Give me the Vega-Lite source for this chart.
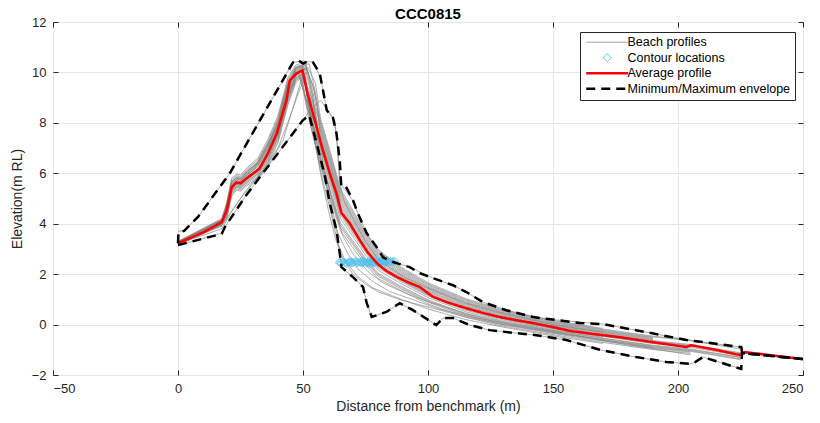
{
"$schema":"https://vega.github.io/schema/vega-lite/v6.json",
"width":750,"height":353,
"autosize":{"type":"none"},
"padding":{"left":53,"top":22,"right":17,"bottom":48},
"title":{"text":"CCC0815","fontSize":15,"fontWeight":"bold","font":"Liberation Sans","color":"#000000","offset":-6},
"config":{
 "view":{"stroke":"#262626","strokeWidth":1},
 "axis":{"labelFont":"Liberation Sans","labelFontSize":13,"labelColor":"#262626","titleFont":"Liberation Sans","titleFontSize":14,"titleFontWeight":"normal","titleColor":"#262626","gridColor":"#e5e5e5","gridWidth":1,"domain":false,"tickColor":"#262626","tickSize":-5,"labelPadding":12},
 "legend":{"orient":"none","legendX":527,"legendY":10,"strokeColor":"#262626","fillColor":"#ffffff","padding":4,"labelFont":"Liberation Sans","labelFontSize":12.5,"labelColor":"#000000","labelLimit":300,"symbolSize":64,"symbolOffset":17,"labelOffset":14,"rowPadding":2.5}
},
"datasets":{
"profiles":[
{"p":1,"x":0,"y":3.16},{"p":1,"x":17.5,"y":3.93},{"p":1,"x":19.5,"y":4.22},{"p":1,"x":21.5,"y":5.09},{"p":1,"x":23.5,"y":5.34},{"p":1,"x":25,"y":5.29},{"p":1,"x":28,"y":5.54},{"p":1,"x":32,"y":5.8},{"p":1,"x":36,"y":6.36},{"p":1,"x":40,"y":7.21},{"p":1,"x":44,"y":8.72},{"p":1,"x":47,"y":9.57},{"p":1,"x":49,"y":9.77},
{"p":1,"x":52,"y":9.38},{"p":1,"x":57,"y":7.97},{"p":1,"x":61,"y":6.62},{"p":1,"x":65,"y":5.2},{"p":1,"x":70,"y":4.36},{"p":1,"x":75,"y":3.53},{"p":1,"x":80,"y":2.82},{"p":1,"x":90,"y":2.13},{"p":1,"x":100,"y":1.57},{"p":1,"x":115,"y":0.95},{"p":1,"x":130,"y":0.52},{"p":1,"x":150,"y":0.1},{"p":1,"x":170,"y":-0.21},{"p":1,"x":190,"y":-0.49},{"p":1,"x":205,"y":-0.64},{"p":1,"x":225,"y":-0.97},
{"p":2,"x":0,"y":3.18},{"p":2,"x":17.5,"y":3.97},{"p":2,"x":19.5,"y":4.32},{"p":2,"x":21.5,"y":5.21},{"p":2,"x":23.5,"y":5.44},{"p":2,"x":25,"y":5.39},{"p":2,"x":28,"y":5.66},{"p":2,"x":32,"y":5.93},{"p":2,"x":36,"y":6.52},{"p":2,"x":40,"y":7.39},{"p":2,"x":44,"y":8.9},{"p":2,"x":47,"y":9.69},{"p":2,"x":50.5,"y":9.87},
{"p":2,"x":53.5,"y":8.03},{"p":2,"x":57,"y":6.47},{"p":2,"x":61,"y":5.12},{"p":2,"x":65,"y":3.85},{"p":2,"x":70,"y":3.16},{"p":2,"x":75,"y":2.48},{"p":2,"x":80,"y":1.92},{"p":2,"x":90,"y":1.38},{"p":2,"x":100,"y":0.89},{"p":2,"x":115,"y":0.35},{"p":2,"x":130,"y":-0.01},{"p":2,"x":150,"y":-0.35},{"p":2,"x":170,"y":-0.66},{"p":2,"x":190,"y":-0.94},{"p":2,"x":205,"y":-1.09},
{"p":3,"x":0,"y":3.21},{"p":3,"x":17.5,"y":4.02},{"p":3,"x":19.5,"y":4.43},{"p":3,"x":21.5,"y":5.33},{"p":3,"x":23.5,"y":5.55},{"p":3,"x":25,"y":5.5},{"p":3,"x":28,"y":5.78},{"p":3,"x":32,"y":6.07},{"p":3,"x":36,"y":6.69},{"p":3,"x":40,"y":7.57},{"p":3,"x":44,"y":9.08},{"p":3,"x":47,"y":9.81},{"p":3,"x":48,"y":9.98},
{"p":3,"x":51,"y":9.02},{"p":3,"x":57,"y":7.57},{"p":3,"x":61,"y":6.22},{"p":3,"x":65,"y":4.84},{"p":3,"x":70,"y":4.04},{"p":3,"x":75,"y":3.25},{"p":3,"x":80,"y":2.58},{"p":3,"x":90,"y":1.93},{"p":3,"x":100,"y":1.39},{"p":3,"x":115,"y":0.79},{"p":3,"x":130,"y":0.38},{"p":3,"x":150,"y":-0.02},{"p":3,"x":170,"y":-0.33},{"p":3,"x":190,"y":-0.61},
{"p":4,"x":0,"y":3.23},{"p":4,"x":17.5,"y":4.06},{"p":4,"x":19.5,"y":4.53},{"p":4,"x":21.5,"y":5.45},{"p":4,"x":23.5,"y":5.65},{"p":4,"x":25,"y":5.6},{"p":4,"x":28,"y":5.9},{"p":4,"x":32,"y":6.2},{"p":4,"x":36,"y":6.85},{"p":4,"x":40,"y":7.75},{"p":4,"x":44,"y":9.26},{"p":4,"x":47,"y":9.93},{"p":4,"x":50,"y":10.08},
{"p":4,"x":53,"y":8.39},{"p":4,"x":57,"y":6.87},{"p":4,"x":61,"y":5.52},{"p":4,"x":65,"y":4.21},{"p":4,"x":70,"y":3.48},{"p":4,"x":75,"y":2.76},{"p":4,"x":80,"y":2.16},{"p":4,"x":90,"y":1.58},{"p":4,"x":100,"y":1.07},{"p":4,"x":115,"y":0.51},{"p":4,"x":130,"y":0.13},{"p":4,"x":150,"y":-0.23},{"p":4,"x":170,"y":-0.54},{"p":4,"x":190,"y":-0.82},{"p":4,"x":205,"y":-0.97},{"p":4,"x":225,"y":-1.3},
{"p":5,"x":0,"y":3.25},{"p":5,"x":17.5,"y":4.11},{"p":5,"x":19.5,"y":4.64},{"p":5,"x":21.5,"y":5.57},{"p":5,"x":23.5,"y":5.76},{"p":5,"x":25,"y":5.71},{"p":5,"x":28,"y":6.02},{"p":5,"x":32,"y":6.34},{"p":5,"x":36,"y":7.02},{"p":5,"x":40,"y":7.93},{"p":5,"x":44,"y":9.44},{"p":5,"x":47,"y":10.05},{"p":5,"x":52,"y":10.19},
{"p":5,"x":55,"y":9.56},{"p":5,"x":57,"y":8.17},{"p":5,"x":61,"y":6.82},{"p":5,"x":65,"y":5.38},{"p":5,"x":70,"y":4.52},{"p":5,"x":75,"y":3.67},{"p":5,"x":80,"y":2.94},{"p":5,"x":90,"y":2.23},{"p":5,"x":100,"y":1.66},{"p":5,"x":115,"y":1.03},{"p":5,"x":130,"y":0.59},{"p":5,"x":150,"y":0.16},{"p":5,"x":170,"y":-0.15},
{"p":6,"x":0,"y":3.28},{"p":6,"x":17.5,"y":4.15},{"p":6,"x":19.5,"y":4.74},{"p":6,"x":21.5,"y":5.69},{"p":6,"x":23.5,"y":5.86},{"p":6,"x":25,"y":5.81},{"p":6,"x":28,"y":6.14},{"p":6,"x":32,"y":6.47},{"p":6,"x":36,"y":7.18},{"p":6,"x":40,"y":8.11},{"p":6,"x":44,"y":9.62},{"p":6,"x":47,"y":10.17},{"p":6,"x":49.5,"y":10.29},
{"p":6,"x":52.5,"y":8.66},{"p":6,"x":57,"y":7.17},{"p":6,"x":61,"y":5.82},{"p":6,"x":65,"y":4.48},{"p":6,"x":70,"y":3.72},{"p":6,"x":75,"y":2.97},{"p":6,"x":80,"y":2.34},{"p":6,"x":90,"y":1.73},{"p":6,"x":100,"y":1.21},{"p":6,"x":115,"y":0.63},{"p":6,"x":130,"y":0.24},{"p":6,"x":150,"y":-0.14},{"p":6,"x":170,"y":-0.45},{"p":6,"x":190,"y":-0.73},{"p":6,"x":205,"y":-0.88},
{"p":7,"x":0,"y":3.3},{"p":7,"x":17.5,"y":4.2},{"p":7,"x":19.5,"y":4.85},{"p":7,"x":21.5,"y":5.81},{"p":7,"x":23.5,"y":5.97},{"p":7,"x":25,"y":5.92},{"p":7,"x":28,"y":6.26},{"p":7,"x":32,"y":6.61},{"p":7,"x":36,"y":7.35},{"p":7,"x":40,"y":8.29},{"p":7,"x":44,"y":9.8},{"p":7,"x":47,"y":10.29},{"p":7,"x":51,"y":10.4},
{"p":7,"x":54,"y":9.2},{"p":7,"x":57,"y":7.77},{"p":7,"x":61,"y":6.42},{"p":7,"x":65,"y":5.02},{"p":7,"x":70,"y":4.2},{"p":7,"x":75,"y":3.39},{"p":7,"x":80,"y":2.7},{"p":7,"x":90,"y":2.03},{"p":7,"x":100,"y":1.48},{"p":7,"x":115,"y":0.87},{"p":7,"x":130,"y":0.45},{"p":7,"x":150,"y":0.04},{"p":7,"x":170,"y":-0.27},{"p":7,"x":190,"y":-0.55},
{"p":8,"x":0,"y":3.17},{"p":8,"x":17.5,"y":3.95},{"p":8,"x":19.5,"y":4.27},{"p":8,"x":21.5,"y":5.15},{"p":8,"x":23.5,"y":5.39},{"p":8,"x":25,"y":5.34},{"p":8,"x":28,"y":5.6},{"p":8,"x":32,"y":5.86},{"p":8,"x":36,"y":6.44},{"p":8,"x":40,"y":7.3},{"p":8,"x":44,"y":8.81},{"p":8,"x":47,"y":9.63},{"p":8,"x":48.5,"y":9.82},
{"p":8,"x":51.5,"y":8.84},{"p":8,"x":57,"y":7.37},{"p":8,"x":61,"y":6.02},{"p":8,"x":65,"y":4.66},{"p":8,"x":70,"y":3.88},{"p":8,"x":75,"y":3.11},{"p":8,"x":80,"y":2.46},{"p":8,"x":90,"y":1.83},{"p":8,"x":100,"y":1.3},{"p":8,"x":115,"y":0.71},{"p":8,"x":130,"y":0.31},{"p":8,"x":150,"y":-0.08},{"p":8,"x":170,"y":-0.39},{"p":8,"x":190,"y":-0.67},{"p":8,"x":205,"y":-0.82},{"p":8,"x":225,"y":-1.15},
{"p":9,"x":0,"y":3.27},{"p":9,"x":17.5,"y":4.13},{"p":9,"x":19.5,"y":4.69},{"p":9,"x":21.5,"y":5.63},{"p":9,"x":23.5,"y":5.81},{"p":9,"x":25,"y":5.76},{"p":9,"x":28,"y":6.08},{"p":9,"x":32,"y":6.4},{"p":9,"x":36,"y":7.1},{"p":9,"x":40,"y":8.02},{"p":9,"x":44,"y":9.53},{"p":9,"x":47,"y":10.11},{"p":9,"x":50,"y":10.24},
{"p":9,"x":53,"y":7.9},{"p":9,"x":57,"y":6.32},{"p":9,"x":61,"y":4.97},{"p":9,"x":65,"y":3.72},{"p":9,"x":70,"y":3.04},{"p":9,"x":75,"y":2.38},{"p":9,"x":80,"y":1.83},{"p":9,"x":90,"y":1.31},{"p":9,"x":100,"y":0.82},{"p":9,"x":115,"y":0.29},{"p":9,"x":130,"y":-0.06},{"p":9,"x":150,"y":-0.4},{"p":9,"x":170,"y":-0.71},{"p":9,"x":190,"y":-0.99},{"p":9,"x":205,"y":-1.14},
{"p":10,"x":0,"y":3.24},{"p":10,"x":17.5,"y":4.08},{"p":10,"x":19.5,"y":4.58},{"p":10,"x":21.5,"y":5.51},{"p":10,"x":23.5,"y":5.7},{"p":10,"x":25,"y":5.65},{"p":10,"x":28,"y":5.96},{"p":10,"x":32,"y":6.27},{"p":10,"x":36,"y":6.93},{"p":10,"x":40,"y":7.84},{"p":10,"x":44,"y":9.35},{"p":10,"x":47,"y":9.99},{"p":10,"x":51.5,"y":10.13},
{"p":10,"x":54.5,"y":9.29},{"p":10,"x":57,"y":7.87},{"p":10,"x":61,"y":6.52},{"p":10,"x":65,"y":5.11},{"p":10,"x":70,"y":4.28},{"p":10,"x":75,"y":3.46},{"p":10,"x":80,"y":2.76},{"p":10,"x":90,"y":2.08},{"p":10,"x":100,"y":1.52},{"p":10,"x":115,"y":0.91},{"p":10,"x":130,"y":0.48},{"p":10,"x":150,"y":0.07},{"p":10,"x":170,"y":-0.24},{"p":10,"x":190,"y":-0.52},
{"p":11,"x":0,"y":3.19},{"p":11,"x":17.5,"y":3.99},{"p":11,"x":19.5,"y":4.37},{"p":11,"x":21.5,"y":5.27},{"p":11,"x":23.5,"y":5.49},{"p":11,"x":25,"y":5.44},{"p":11,"x":28,"y":5.72},{"p":11,"x":32,"y":6.0},{"p":11,"x":36,"y":6.6},{"p":11,"x":40,"y":7.48},{"p":11,"x":44,"y":8.99},{"p":11,"x":47,"y":9.75},{"p":11,"x":49,"y":9.92},
{"p":11,"x":52,"y":8.53},{"p":11,"x":57,"y":7.02},{"p":11,"x":61,"y":5.67},{"p":11,"x":65,"y":4.35},{"p":11,"x":70,"y":3.6},{"p":11,"x":75,"y":2.87},{"p":11,"x":80,"y":2.25},{"p":11,"x":90,"y":1.66},{"p":11,"x":100,"y":1.14},{"p":11,"x":115,"y":0.57},{"p":11,"x":130,"y":0.18},{"p":11,"x":150,"y":-0.2},{"p":11,"x":170,"y":-0.5},
{"p":12,"x":0,"y":3.29},{"p":12,"x":17.5,"y":4.17},{"p":12,"x":19.5,"y":4.79},{"p":12,"x":21.5,"y":5.75},{"p":12,"x":23.5,"y":5.91},{"p":12,"x":25,"y":5.86},{"p":12,"x":28,"y":6.2},{"p":12,"x":32,"y":6.54},{"p":12,"x":36,"y":7.26},{"p":12,"x":40,"y":8.2},{"p":12,"x":44,"y":9.71},{"p":12,"x":47,"y":10.23},{"p":12,"x":52.5,"y":10.34},
{"p":12,"x":55.5,"y":8.93},{"p":12,"x":57,"y":7.47},{"p":12,"x":61,"y":6.12},{"p":12,"x":65,"y":4.75},{"p":12,"x":70,"y":3.96},{"p":12,"x":75,"y":3.18},{"p":12,"x":80,"y":2.52},{"p":12,"x":90,"y":1.88},{"p":12,"x":100,"y":1.34},{"p":12,"x":115,"y":0.75},{"p":12,"x":130,"y":0.34},{"p":12,"x":150,"y":-0.05},{"p":12,"x":170,"y":-0.36},{"p":12,"x":190,"y":-0.64},{"p":12,"x":205,"y":-0.79},{"p":12,"x":225,"y":-1.12},{"p":12,"x":250,"y":-1.37},
{"p":13,"x":0,"y":3.22},{"p":13,"x":17.5,"y":4.04},{"p":13,"x":19.5,"y":4.48},{"p":13,"x":21.5,"y":5.39},{"p":13,"x":23.5,"y":5.6},{"p":13,"x":25,"y":5.55},{"p":13,"x":28,"y":5.84},{"p":13,"x":32,"y":6.13},{"p":13,"x":36,"y":6.77},{"p":13,"x":40,"y":7.66},{"p":13,"x":44,"y":9.17},{"p":13,"x":47,"y":9.87},{"p":13,"x":50,"y":10.03},
{"p":13,"x":53,"y":8.21},{"p":13,"x":57,"y":6.67},{"p":13,"x":61,"y":5.32},{"p":13,"x":65,"y":4.03},{"p":13,"x":70,"y":3.32},{"p":13,"x":75,"y":2.62},{"p":13,"x":80,"y":2.04},{"p":13,"x":90,"y":1.48},{"p":13,"x":100,"y":0.98},{"p":13,"x":115,"y":0.43},{"p":13,"x":130,"y":0.06},{"p":13,"x":150,"y":-0.29},{"p":13,"x":170,"y":-0.6},{"p":13,"x":190,"y":-0.88},{"p":13,"x":205,"y":-1.03},{"p":13,"x":225,"y":-1.36},
{"p":14,"x":0,"y":3.27},{"p":14,"x":17.5,"y":4.14},{"p":14,"x":19.5,"y":4.71},{"p":14,"x":21.5,"y":5.65},{"p":14,"x":23.5,"y":5.83},{"p":14,"x":25,"y":5.78},{"p":14,"x":28,"y":6.1},{"p":14,"x":32,"y":6.43},{"p":14,"x":36,"y":7.13},{"p":14,"x":40,"y":8.05},{"p":14,"x":44,"y":9.56},{"p":14,"x":47,"y":10.13},{"p":14,"x":51,"y":10.26},
{"p":14,"x":54,"y":9.47},{"p":14,"x":57,"y":8.07},{"p":14,"x":61,"y":6.72},{"p":14,"x":65,"y":5.29},{"p":14,"x":70,"y":4.44},{"p":14,"x":75,"y":3.6},{"p":14,"x":80,"y":2.88},{"p":14,"x":90,"y":2.18},{"p":14,"x":100,"y":1.61},{"p":14,"x":115,"y":0.99},{"p":14,"x":130,"y":0.55},{"p":14,"x":150,"y":0.13},{"p":14,"x":170,"y":-0.18},{"p":14,"x":190,"y":-0.46},{"p":14,"x":205,"y":-0.61},
{"p":15,"x":0,"y":3.19},{"p":15,"x":17.5,"y":3.99},{"p":15,"x":19.5,"y":4.36},{"p":15,"x":21.5,"y":5.25},{"p":15,"x":23.5,"y":5.48},{"p":15,"x":25,"y":5.43},{"p":15,"x":28,"y":5.7},{"p":15,"x":32,"y":5.98},{"p":15,"x":36,"y":6.58},{"p":15,"x":40,"y":7.45},{"p":15,"x":44,"y":8.96},{"p":15,"x":47,"y":9.73},{"p":15,"x":49.5,"y":9.91},
{"p":15,"x":52.5,"y":9.11},{"p":15,"x":57,"y":7.67},{"p":15,"x":61,"y":6.32},{"p":15,"x":65,"y":4.93},{"p":15,"x":70,"y":4.12},{"p":15,"x":75,"y":3.32},{"p":15,"x":80,"y":2.64},{"p":15,"x":90,"y":1.98},{"p":15,"x":100,"y":1.43},{"p":15,"x":115,"y":0.83},{"p":15,"x":130,"y":0.41},{"p":15,"x":150,"y":0.01},{"p":15,"x":170,"y":-0.3},{"p":15,"x":190,"y":-0.58},
{"p":16,"x":0,"y":3.26},{"p":16,"x":17.5,"y":4.11},{"p":16,"x":19.5,"y":4.65},{"p":16,"x":21.5,"y":5.59},{"p":16,"x":23.5,"y":5.77},{"p":16,"x":25,"y":5.72},{"p":16,"x":28,"y":6.04},{"p":16,"x":32,"y":6.36},{"p":16,"x":36,"y":7.04},{"p":16,"x":40,"y":7.96},{"p":16,"x":44,"y":9.47},{"p":16,"x":47,"y":10.07},{"p":16,"x":50.5,"y":10.2},
{"p":16,"x":53.5,"y":8.12},{"p":16,"x":57,"y":6.57},{"p":16,"x":61,"y":5.22},{"p":16,"x":65,"y":3.94},{"p":16,"x":70,"y":3.24},{"p":16,"x":75,"y":2.55},{"p":16,"x":80,"y":1.98},{"p":16,"x":90,"y":1.43},{"p":16,"x":100,"y":0.94},{"p":16,"x":115,"y":0.39},{"p":16,"x":130,"y":0.03},{"p":16,"x":150,"y":-0.32},{"p":16,"x":170,"y":-0.63},{"p":16,"x":190,"y":-0.91},{"p":16,"x":205,"y":-1.06},{"p":16,"x":225,"y":-1.39},
{"p":17,"x":0,"y":3.25},{"p":17,"x":17.5,"y":4.09},{"p":17,"x":19.5,"y":4.6},{"p":17,"x":21.5,"y":5.53},{"p":17,"x":23.5,"y":5.72},{"p":17,"x":25,"y":5.67},{"p":17,"x":28,"y":5.98},{"p":17,"x":32,"y":6.29},{"p":17,"x":36,"y":6.96},{"p":17,"x":40,"y":7.87},{"p":17,"x":44,"y":9.38},{"p":17,"x":47,"y":10.01},{"p":17,"x":51,"y":10.15},
{"p":17,"x":54,"y":8.75},{"p":17,"x":57,"y":7.27},{"p":17,"x":61,"y":5.92},{"p":17,"x":65,"y":4.57},{"p":17,"x":70,"y":3.8},{"p":17,"x":75,"y":3.04},{"p":17,"x":80,"y":2.4},{"p":17,"x":90,"y":1.78},{"p":17,"x":100,"y":1.25},{"p":17,"x":115,"y":0.67},{"p":17,"x":130,"y":0.27},{"p":17,"x":150,"y":-0.11},{"p":17,"x":170,"y":-0.42},{"p":17,"x":190,"y":-0.7},{"p":17,"x":205,"y":-0.85},
{"p":18,"x":0,"y":3.21},{"p":18,"x":17.5,"y":4.03},{"p":18,"x":19.5,"y":4.46},{"p":18,"x":21.5,"y":5.37},{"p":18,"x":23.5,"y":5.58},{"p":18,"x":25,"y":5.53},{"p":18,"x":28,"y":5.82},{"p":18,"x":32,"y":6.11},{"p":18,"x":36,"y":6.74},{"p":18,"x":40,"y":7.63},{"p":18,"x":44,"y":9.14},{"p":18,"x":47,"y":9.85},{"p":18,"x":48.5,"y":10.01},
{"p":18,"x":51.5,"y":8.62},{"p":18,"x":57,"y":7.12},{"p":18,"x":61,"y":5.77},{"p":18,"x":65,"y":4.44},{"p":18,"x":70,"y":3.68},{"p":18,"x":75,"y":2.94},{"p":18,"x":80,"y":2.31},{"p":18,"x":90,"y":1.71},{"p":18,"x":100,"y":1.18},{"p":18,"x":115,"y":0.61},{"p":18,"x":130,"y":0.22},{"p":18,"x":150,"y":-0.16},{"p":18,"x":170,"y":-0.47},{"p":18,"x":190,"y":-0.75},{"p":18,"x":205,"y":-0.9},{"p":18,"x":225,"y":-1.23},
{"p":19,"x":0,"y":3.7},{"p":19,"x":2.5,"y":3.72},{"p":19,"x":8,"y":4.27},{"p":19,"x":20.7,"y":6.0},{"p":19,"x":46,"y":10.4},{"p":19,"x":50,"y":10.45},{"p":19,"x":54,"y":10.4},{"p":19,"x":57,"y":9.8},{"p":19,"x":59.5,"y":8.5},{"p":19,"x":62,"y":8.2},{"p":19,"x":63.4,"y":7.58},{"p":19,"x":65,"y":5.6},{"p":19,"x":70,"y":4.9},{"p":19,"x":72,"y":4.4},{"p":19,"x":75.5,"y":3.6},{"p":19,"x":80,"y":3.0},{"p":19,"x":86,"y":2.48},{"p":19,"x":92.7,"y":2.28},{"p":19,"x":102,"y":1.84},{"p":19,"x":110,"y":1.56},{"p":19,"x":115.3,"y":1.29},{"p":19,"x":122,"y":0.89},{"p":19,"x":131.3,"y":0.57},{"p":19,"x":142,"y":0.3},{"p":19,"x":151.3,"y":0.18},{"p":19,"x":170,"y":0.02},{"p":19,"x":187.3,"y":-0.3},{"p":19,"x":203.3,"y":-0.61},{"p":19,"x":225,"y":-0.89},
{"p":20,"x":0,"y":3.15},{"p":20,"x":17.5,"y":3.62},{"p":20,"x":18.7,"y":3.86},{"p":20,"x":26.7,"y":5.05},{"p":20,"x":49.9,"y":8.1},{"p":20,"x":53,"y":8.5},{"p":20,"x":57,"y":8.9},{"p":20,"x":62.7,"y":8.1},{"p":20,"x":63.8,"y":7.0},{"p":20,"x":64.5,"y":5.8},{"p":20,"x":66,"y":5.0},{"p":20,"x":70,"y":4.2},{"p":20,"x":75,"y":3.3},{"p":20,"x":80,"y":2.6},{"p":20,"x":90,"y":1.9},{"p":20,"x":100,"y":1.45},{"p":20,"x":115,"y":0.85},{"p":20,"x":130,"y":0.45},{"p":20,"x":150,"y":0.0},{"p":20,"x":170,"y":-0.3},
{"p":21,"x":0,"y":3.3},{"p":21,"x":17.5,"y":4.05},{"p":21,"x":21,"y":5.4},{"p":21,"x":30,"y":6.1},{"p":21,"x":40,"y":7.9},{"p":21,"x":47,"y":10.2},{"p":21,"x":51,"y":10.3},{"p":21,"x":54,"y":9.0},{"p":21,"x":57,"y":6.5},{"p":21,"x":59,"y":5.8},{"p":21,"x":61,"y":4.6},{"p":21,"x":63.4,"y":3.74},{"p":21,"x":64.7,"y":2.83},{"p":21,"x":65.4,"y":2.28},{"p":21,"x":70,"y":1.88},{"p":21,"x":74,"y":1.49},{"p":21,"x":75.5,"y":0.85},{"p":21,"x":77.5,"y":0.3},{"p":21,"x":83.3,"y":0.5},{"p":21,"x":88.7,"y":0.85},{"p":21,"x":94,"y":0.57},{"p":21,"x":103.3,"y":-0.02},{"p":21,"x":106,"y":0.26},{"p":21,"x":110,"y":0.26},{"p":21,"x":116.7,"y":-0.02},{"p":21,"x":124.7,"y":-0.22},{"p":21,"x":135.3,"y":-0.34},{"p":21,"x":143.3,"y":-0.42},{"p":21,"x":155.3,"y":-0.61},{"p":21,"x":168.7,"y":-1.0},{"p":21,"x":183.3,"y":-1.29},{"p":21,"x":195.3,"y":-1.48},{"p":21,"x":204.7,"y":-1.56},{"p":21,"x":207,"y":-1.48},{"p":21,"x":210,"y":-1.29},{"p":21,"x":225.3,"y":-1.76},
{"p":22,"x":0,"y":3.24},{"p":22,"x":17.5,"y":3.9},{"p":22,"x":20,"y":4.3},{"p":22,"x":25,"y":5.0},{"p":22,"x":30,"y":5.6},{"p":22,"x":36,"y":6.3},{"p":22,"x":42,"y":7.3},{"p":22,"x":46,"y":8.6},{"p":22,"x":49,"y":9.6},{"p":22,"x":50.5,"y":9.9},{"p":22,"x":53.5,"y":8.0},{"p":22,"x":57,"y":6.0},{"p":22,"x":60,"y":4.6},{"p":22,"x":63,"y":3.4},{"p":22,"x":66,"y":2.6},{"p":22,"x":70,"y":2.0},{"p":22,"x":75,"y":1.6},{"p":22,"x":80,"y":1.3},{"p":22,"x":90,"y":0.95},{"p":22,"x":100,"y":0.7},{"p":22,"x":115,"y":0.3},{"p":22,"x":130,"y":0.0},{"p":22,"x":150,"y":-0.3},{"p":22,"x":170,"y":-0.6},{"p":22,"x":190,"y":-0.9},
{"p":23,"x":0,"y":3.27},{"p":23,"x":17.5,"y":4.14},{"p":23,"x":19.5,"y":4.7},{"p":23,"x":21.5,"y":5.65},{"p":23,"x":23.5,"y":5.83},{"p":23,"x":25,"y":5.78},{"p":23,"x":28,"y":6.1},{"p":23,"x":32,"y":6.43},{"p":23,"x":36,"y":7.13},{"p":23,"x":40,"y":8.05},{"p":23,"x":44,"y":9.56},{"p":23,"x":47,"y":10.13},{"p":23,"x":49,"y":10.25},{"p":23,"x":52,"y":8.3},{"p":23,"x":57,"y":6.3},{"p":23,"x":61,"y":4.9},{"p":23,"x":64,"y":3.6},{"p":23,"x":68,"y":2.8},{"p":23,"x":72,"y":2.2},{"p":23,"x":78,"y":1.7},{"p":23,"x":85,"y":1.3},{"p":23,"x":95,"y":0.95},{"p":23,"x":105,"y":0.6},{"p":23,"x":120,"y":0.25},{"p":23,"x":140,"y":-0.1},{"p":23,"x":160,"y":-0.45},{"p":23,"x":180,"y":-0.8},{"p":23,"x":205,"y":-1.2},
{"p":24,"x":0,"y":3.2},{"p":24,"x":17.5,"y":3.8},{"p":24,"x":21,"y":4.4},{"p":24,"x":27,"y":5.3},{"p":24,"x":33,"y":6.0},{"p":24,"x":40,"y":7.0},{"p":24,"x":45,"y":8.3},{"p":24,"x":49,"y":9.4},{"p":24,"x":51,"y":9.8},{"p":24,"x":53,"y":8.1},{"p":24,"x":57,"y":6.1},{"p":24,"x":61,"y":4.5},{"p":24,"x":64,"y":3.2},{"p":24,"x":67,"y":2.5},{"p":24,"x":72,"y":1.9},{"p":24,"x":78,"y":1.45},{"p":24,"x":88,"y":1.05},{"p":24,"x":100,"y":0.62},{"p":24,"x":115,"y":0.2},{"p":24,"x":130,"y":-0.1},{"p":24,"x":150,"y":-0.45},{"p":24,"x":170,"y":-0.75},
{"p":25,"x":0,"y":3.21},{"p":25,"x":17.5,"y":4.02},{"p":25,"x":19.5,"y":4.43},{"p":25,"x":21.5,"y":5.33},{"p":25,"x":23.5,"y":5.55},{"p":25,"x":25,"y":5.5},{"p":25,"x":28,"y":5.78},{"p":25,"x":32,"y":6.07},{"p":25,"x":36,"y":6.69},{"p":25,"x":40,"y":7.57},{"p":25,"x":44,"y":9.08},{"p":25,"x":47,"y":9.81},{"p":25,"x":52,"y":10.0},{"p":25,"x":55,"y":8.4},{"p":25,"x":58,"y":6.4},{"p":25,"x":62,"y":4.8},{"p":25,"x":66,"y":3.5},{"p":25,"x":70,"y":2.8},{"p":25,"x":76,"y":2.1},{"p":25,"x":82,"y":1.65},{"p":25,"x":92,"y":1.2},{"p":25,"x":102,"y":0.85},{"p":25,"x":115,"y":0.45},{"p":25,"x":130,"y":0.1},{"p":25,"x":150,"y":-0.25},{"p":25,"x":170,"y":-0.55},{"p":25,"x":190,"y":-0.85},{"p":25,"x":205,"y":-1.0},{"p":25,"x":225,"y":-1.3}
],
"contours":[
{"x":64.5,"y":2.46},{"x":65.2,"y":2.44},{"x":66.0,"y":2.49},{"x":66.8,"y":2.45},{"x":67.5,"y":2.42},{"x":68.1,"y":2.48},{"x":68.9,"y":2.46},{"x":69.2,"y":2.51},{"x":69.6,"y":2.43},{"x":70.3,"y":2.47},{"x":71.0,"y":2.5},{"x":71.6,"y":2.44},{"x":72.2,"y":2.48},{"x":72.9,"y":2.45},{"x":73.5,"y":2.52},{"x":73.8,"y":2.43},{"x":74.1,"y":2.47},{"x":74.8,"y":2.5},{"x":75.4,"y":2.44},{"x":76.0,"y":2.48},{"x":76.3,"y":2.42},{"x":76.7,"y":2.51},{"x":77.3,"y":2.46},{"x":77.9,"y":2.49},{"x":78.1,"y":2.43},{"x":78.6,"y":2.47},{"x":79.2,"y":2.52},{"x":79.8,"y":2.45},{"x":80.5,"y":2.49},{"x":80.9,"y":2.44},{"x":81.1,"y":2.5},{"x":81.8,"y":2.47},{"x":82.4,"y":2.52},{"x":82.8,"y":2.45},{"x":83.0,"y":2.49},{"x":83.7,"y":2.53},{"x":84.3,"y":2.48},{"x":85.0,"y":2.51},{"x":85.8,"y":2.49},{"x":86.6,"y":2.52}
],
"average":[
{"x":0,"y":3.23},{"x":10,"y":3.65},{"x":17.5,"y":4.06},{"x":19.5,"y":4.53},{"x":21.5,"y":5.45},{"x":23.4,"y":5.64},{"x":25,"y":5.6},{"x":27.4,"y":5.8},{"x":30.7,"y":6.04},{"x":32.7,"y":6.2},{"x":36,"y":6.8},{"x":39.5,"y":7.58},{"x":43.4,"y":8.9},{"x":44.7,"y":9.68},{"x":47.4,"y":9.96},{"x":49.8,"y":10.08},{"x":51.5,"y":9.3},{"x":55,"y":8.0},{"x":58,"y":6.9},{"x":60.7,"y":6.0},{"x":63.4,"y":5.2},{"x":65.4,"y":4.42},{"x":68.7,"y":4.02},{"x":72.7,"y":3.35},{"x":76,"y":2.85},{"x":79.5,"y":2.44},{"x":83,"y":2.15},{"x":87.3,"y":1.9},{"x":92,"y":1.68},{"x":96.7,"y":1.49},{"x":102,"y":1.1},{"x":108,"y":0.87},{"x":115.3,"y":0.65},{"x":122,"y":0.46},{"x":128.7,"y":0.3},{"x":135,"y":0.18},{"x":142,"y":0.06},{"x":150,"y":-0.1},{"x":156.7,"y":-0.25},{"x":165,"y":-0.36},{"x":176.7,"y":-0.5},{"x":190,"y":-0.7},{"x":203.3,"y":-0.89},{"x":205.3,"y":-0.82},{"x":215,"y":-1.0},{"x":224.7,"y":-1.21},{"x":226.7,"y":-1.09},{"x":250,"y":-1.37}
],
"envelope":[
{"side":"max","x":0,"y":3.22},{"side":"max","x":0.2,"y":3.65},{"side":"max","x":2.5,"y":3.72},{"side":"max","x":8,"y":4.27},{"side":"max","x":20.7,"y":6.0},{"side":"max","x":46,"y":10.4},{"side":"max","x":48,"y":10.5},{"side":"max","x":50,"y":10.35},{"side":"max","x":52,"y":10.45},{"side":"max","x":54,"y":10.4},{"side":"max","x":56.7,"y":9.96},{"side":"max","x":58,"y":9.29},{"side":"max","x":59.5,"y":8.5},{"side":"max","x":62,"y":8.2},{"side":"max","x":63.4,"y":7.58},{"side":"max","x":64.7,"y":6.5},{"side":"max","x":65.3,"y":5.5},{"side":"max","x":67,"y":5.5},{"side":"max","x":70,"y":4.93},{"side":"max","x":72,"y":4.4},{"side":"max","x":75.5,"y":3.62},{"side":"max","x":79.5,"y":3.07},{"side":"max","x":82,"y":2.67},{"side":"max","x":86,"y":2.48},{"side":"max","x":92.7,"y":2.28},{"side":"max","x":96.7,"y":2.04},{"side":"max","x":102,"y":1.84},{"side":"max","x":110,"y":1.56},{"side":"max","x":115.3,"y":1.29},{"side":"max","x":122,"y":0.89},{"side":"max","x":131.3,"y":0.57},{"side":"max","x":142,"y":0.3},{"side":"max","x":151.3,"y":0.18},{"side":"max","x":160.7,"y":0.06},{"side":"max","x":170,"y":0.02},{"side":"max","x":187.3,"y":-0.3},{"side":"max","x":203.3,"y":-0.61},{"side":"max","x":225.3,"y":-0.89},{"side":"max","x":225.7,"y":-1.13},{"side":"max","x":250,"y":-1.37},
{"side":"min","x":0,"y":3.15},{"side":"min","x":17.5,"y":3.6},{"side":"min","x":18.7,"y":3.86},{"side":"min","x":26.7,"y":5.05},{"side":"min","x":49.9,"y":8.1},{"side":"min","x":52.5,"y":8.3},{"side":"min","x":55.4,"y":7.2},{"side":"min","x":58.7,"y":5.92},{"side":"min","x":60.7,"y":4.81},{"side":"min","x":63.4,"y":3.74},{"side":"min","x":64.7,"y":2.83},{"side":"min","x":65.4,"y":2.28},{"side":"min","x":70,"y":1.88},{"side":"min","x":74,"y":1.49},{"side":"min","x":75.5,"y":0.85},{"side":"min","x":77.5,"y":0.3},{"side":"min","x":83.3,"y":0.5},{"side":"min","x":88.7,"y":0.85},{"side":"min","x":94,"y":0.57},{"side":"min","x":103.3,"y":-0.02},{"side":"min","x":106,"y":0.26},{"side":"min","x":110,"y":0.26},{"side":"min","x":116.7,"y":-0.02},{"side":"min","x":124.7,"y":-0.22},{"side":"min","x":135.3,"y":-0.34},{"side":"min","x":143.3,"y":-0.42},{"side":"min","x":155.3,"y":-0.61},{"side":"min","x":168.7,"y":-1.0},{"side":"min","x":183.3,"y":-1.29},{"side":"min","x":195.3,"y":-1.48},{"side":"min","x":204.7,"y":-1.56},{"side":"min","x":207,"y":-1.48},{"side":"min","x":210,"y":-1.29},{"side":"min","x":225.3,"y":-1.76},{"side":"min","x":225.6,"y":-1.13},{"side":"min","x":250,"y":-1.37}
]
},
"layer":[
{"data":{"name":"profiles"},
 "mark":{"type":"line","strokeJoin":"round","strokeWidth":0.75},
 "encoding":{
  "x":{"field":"x","type":"quantitative","scale":{"domain":[-50,250],"nice":false,"zero":false},"axis":{"values":[-50,0,50,100,150,200,250],"title":"Distance from benchmark (m)"}},
  "y":{"field":"y","type":"quantitative","scale":{"domain":[-2,12],"nice":false,"zero":false},"axis":{"values":[-2,0,2,4,6,8,10,12],"title":"Elevation(m RL)","titlePadding":7}},
  "detail":{"field":"p","type":"nominal"},
  "color":{"datum":"Beach profiles","type":"nominal","scale":{"domain":["Beach profiles","Contour locations","Average profile","Minimum/Maximum envelope"],"range":["#868686","#4DBEEE","#FF0000","#000000"]},"legend":{"title":null,"encode":{"symbols":{"update":{"strokeWidth":{"signal":"datum.value === 'Beach profiles' ? 0.8 : (datum.value === 'Contour locations' ? 1 : 2.5)"}}}}}},
  "strokeDash":{"datum":"Beach profiles","type":"nominal","scale":{"domain":["Beach profiles","Contour locations","Average profile","Minimum/Maximum envelope"],"range":[[1,0],[1,0],[1,0],[9,6]]},"legend":{"title":null}}
 }},
{"data":{"name":"contours"},
 "mark":{"type":"point","filled":false,"size":55,"strokeWidth":1.1},
 "encoding":{
  "x":{"field":"x","type":"quantitative","axis":null},
  "y":{"field":"y","type":"quantitative","axis":null},
  "color":{"datum":"Contour locations","type":"nominal"},
  "shape":{"datum":"Contour locations","type":"nominal","scale":{"domain":["Beach profiles","Contour locations","Average profile","Minimum/Maximum envelope"],"range":["M-5.25,0H5.25","diamond","M-5.25,0H5.25","M-5.25,0H5.25"]},"legend":{"title":null}}
 }},
{"data":{"name":"average"},
 "mark":{"type":"line","strokeJoin":"round","strokeWidth":2.5},
 "encoding":{
  "x":{"field":"x","type":"quantitative","axis":{"orient":"top","labels":false,"title":null,"grid":false,"values":[-50,0,50,100,150,200,250]}},
  "y":{"field":"y","type":"quantitative","axis":{"orient":"right","labels":false,"title":null,"grid":false,"values":[-2,0,2,4,6,8,10,12]}},
  "color":{"datum":"Average profile","type":"nominal"},
  "strokeDash":{"datum":"Average profile","type":"nominal"}
 }},
{"data":{"name":"envelope"},
 "mark":{"type":"line","strokeWidth":2.5},
 "encoding":{
  "x":{"field":"x","type":"quantitative","axis":null},
  "y":{"field":"y","type":"quantitative","axis":null},
  "detail":{"field":"side","type":"nominal"},
  "color":{"datum":"Minimum/Maximum envelope","type":"nominal"},
  "strokeDash":{"datum":"Minimum/Maximum envelope","type":"nominal"}
 }}
],
"resolve":{"axis":{"x":"independent","y":"independent"}}
}
